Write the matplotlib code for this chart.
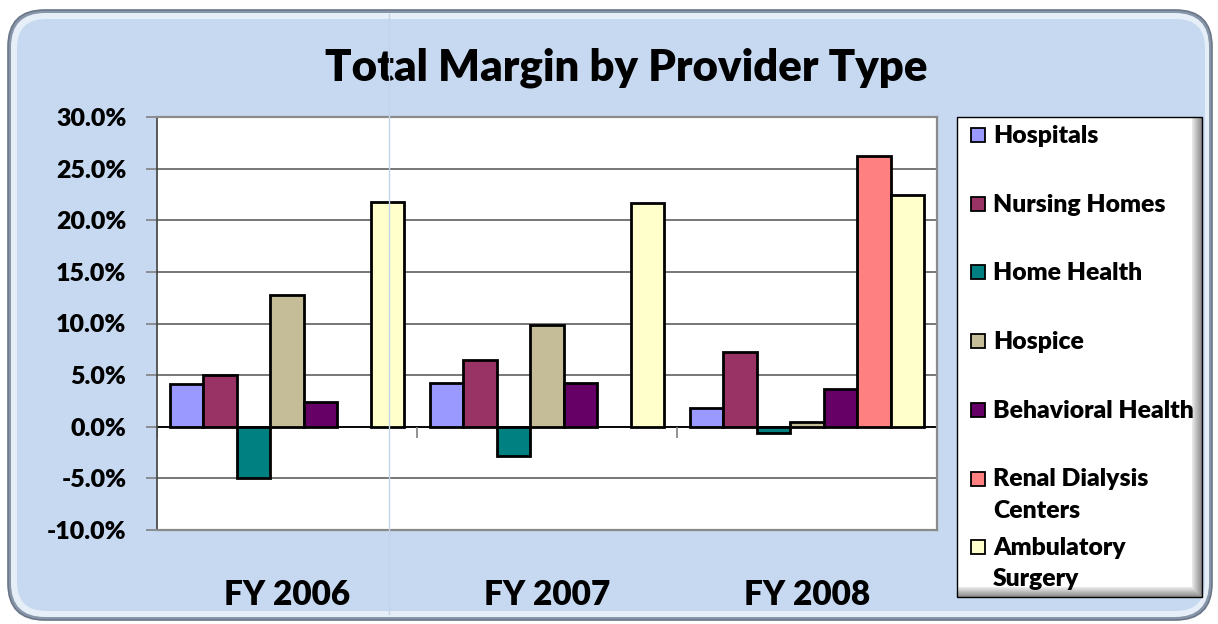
import numpy as np
import matplotlib
matplotlib.use('Agg')
import matplotlib.pyplot as plt
from matplotlib.patches import FancyBboxPatch, Rectangle
from matplotlib.lines import Line2D

plt.rcParams['font.family'] = ['Lato', 'DejaVu Sans']
plt.rcParams['font.weight'] = 'heavy'
WT = 'heavy'

# data (percent)
years = ['FY 2006', 'FY 2007', 'FY 2008']
providers = ['Hospitals', 'Nursing Homes', 'Home Health', 'Hospice',
             'Behavioral Health', 'Renal Dialysis\nCenters', 'Ambulatory\nSurgery']
hospitals = [4.1, 4.2, 1.8]
nursing_homes = [5.0, 6.5, 7.2]
home_health = [-5.0, -2.8, -0.6]
hospice = [12.8, 9.9, 0.5]
behavioral = [2.4, 4.2, 3.7]
renal = [np.nan, np.nan, 26.2]
ambulatory = [21.8, 21.7, 22.4]
series = [hospitals, nursing_homes, home_health, hospice, behavioral, renal, ambulatory]
colors = ['#9999FF', '#993366', '#008080', '#C4BD97', '#660066', '#FF8080', '#FFFFCC']

W, H = 1218, 624
fig = plt.figure(figsize=(W / 100, H / 100), dpi=100)
fig.patch.set_facecolor('white')


def fx(px):
    return px / W


def fy(py):
    return 1 - py / H


# rounded chart frame
frame_outer = FancyBboxPatch((fx(8), fy(620)), fx(1204), 610 / H,
                             boxstyle='round,pad=0,rounding_size=0.03',
                             transform=fig.transFigure, facecolor='#8795a8',
                             edgecolor='#6b7788', linewidth=1.2, zorder=-3,
                             mutation_aspect=W / H)
fig.patches.append(frame_outer)
frame_mid = FancyBboxPatch((fx(11), fy(617)), fx(1198), 604 / H,
                           boxstyle='round,pad=0,rounding_size=0.028',
                           transform=fig.transFigure, facecolor='#e6eef8',
                           edgecolor='none', zorder=-2.9, mutation_aspect=W / H)
fig.patches.append(frame_mid)
frame_in = FancyBboxPatch((fx(17), fy(611)), fx(1188), 592 / H,
                          boxstyle='round,pad=0,rounding_size=0.024',
                          transform=fig.transFigure, facecolor='#C6D9F1',
                          edgecolor='none', zorder=-2.8, mutation_aspect=W / H)
fig.patches.append(frame_in)

ax = fig.add_axes([fx(157), fy(530), fx(780), 413 / H])
ax.set_zorder(2)
ax.set_facecolor('white')

n = len(series)
x = np.arange(len(years))
bw = 0.9 / n
for i, (vals, c) in enumerate(zip(series, colors)):
    ax.bar(x - 0.45 + bw * (i + 0.5), vals, width=bw, color=c,
           edgecolor='black', linewidth=2, zorder=3)

ax.set_xlim(-0.5, len(years) - 0.5)
ax.set_ylim(-10, 30)
ax.set_yticks(np.arange(-10, 31, 5))
ax.set_yticklabels([f'{v:.1f}%' for v in np.arange(-10, 31, 5)])
ax.yaxis.grid(True, color='#606060', linewidth=1.2, zorder=1)
ax.axhline(0, color='black', linewidth=1.3, zorder=2)
# category ticks on the zero line
ax.vlines(np.arange(len(years) + 1) - 0.5, -1.1, 0, color='#808080', linewidth=1.2, zorder=2)

ax.set_xticks(x)
ax.set_xticklabels(years, fontsize=24, fontweight=WT)
ax.tick_params(axis='x', length=0, pad=35)
ax.tick_params(axis='y', length=8, width=1.2, color='#808080', pad=14,
               labelsize=18)
for lab in ax.get_yticklabels():
    lab.set_fontweight(WT)
for s in ['top', 'right', 'bottom']:
    ax.spines[s].set_color('#8a8a8a')
    ax.spines[s].set_linewidth(1.6)
ax.spines['left'].set_color('#404040')
ax.spines['left'].set_linewidth(1.2)

fig.text(fx(626), fy(68), 'Total Margin by Provider Type', ha='center', va='center',
         fontsize=31.5, fontweight=WT, zorder=3)

# legend box with soft shadow on the right and bottom
lx0, ly0, lx1, ly1 = 957, 117, 1202, 597
for k in range(11):
    shade = 'white' if k == 10 else str(0.55 + 0.04 * k)
    fig.patches.append(Rectangle((fx(lx0), fy(ly1 - k)), fx(lx1 - lx0 - k),
                                 (ly1 - ly0 - k) / H,
                                 transform=fig.transFigure, facecolor=shade,
                                 edgecolor='none', zorder=-1 + 0.01 * k))
fig.patches.append(Rectangle((fx(lx0), fy(ly1)), fx(lx1 - lx0), (ly1 - ly0) / H,
                             transform=fig.transFigure, facecolor='none',
                             edgecolor='black', linewidth=1, zorder=1))
for i, (name, c) in enumerate(zip(providers, colors)):
    yc = 135 + 68.7 * i
    fig.patches.append(Rectangle((fx(971), fy(yc + 7)), fx(14), 14 / H,
                                 transform=fig.transFigure, facecolor=c,
                                 edgecolor='black', linewidth=1.3, zorder=3))
    fig.text(fx(993), fy(yc - 10), name, ha='left', va='top', fontsize=17.8,
             fontweight=WT, linespacing=1.5, zorder=3)

# light vertical artifact line
fig.lines.append(Line2D([fx(389), fx(389)], [fy(614), fy(14)], transform=fig.transFigure,
                        color='#c3d3e8', linewidth=1, zorder=4))

fig.savefig('out.png', dpi=100)
